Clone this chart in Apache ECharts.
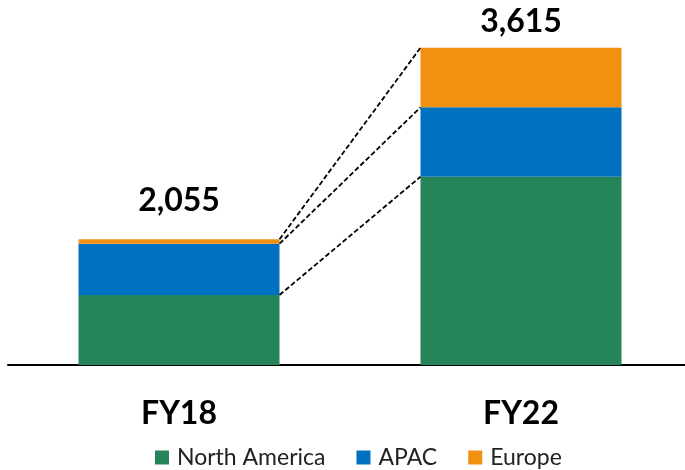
<!DOCTYPE html>
<html>
<head>
<meta charset="utf-8">
<script src="https://cdn.jsdelivr.net/npm/echarts@6/dist/echarts.min.js"></script>
<style>
html,body{margin:0;padding:0;background:#fff;}
#chart{width:685px;height:470px;}
</style>
</head>
<body>
<div id="chart"></div>
<script>
const categories = ['FY18', 'FY22'];
const seriesNames = ['North America', 'APAC', 'Europe'];
const northAmerica = [1144, 2145];
const apac = [839, 791];
const europe = [72, 679];
const totals = [2055, 3615];

const colors = ['#25845A', '#0070C0', '#F29111'];
const FONT = 'Lato';
const BAR_W = 201;
const labelDist = [23, 10];

const valuesBySeries = [northAmerica, apac, europe];
const series = [];
categories.forEach((cat, ci) => {
  valuesBySeries.forEach((vals, si) => {
    const data = categories.map((c, k) => {
      if (k !== ci) return '-';
      if (si === valuesBySeries.length - 1) {
        return { value: vals[k], label: { distance: labelDist[k] } };
      }
      return vals[k];
    });
    const s = {
      name: seriesNames[si],
      type: 'bar',
      stack: 'stack' + ci,
      xAxisIndex: ci,
      yAxisIndex: ci,
      barWidth: BAR_W,
      itemStyle: { color: colors[si] },
      data: data
    };
    if (si === valuesBySeries.length - 1) {
      s.label = {
        show: true,
        position: 'top',
        fontFamily: FONT,
        fontWeight: 'bold',
        fontSize: 32,
        color: '#000',
        formatter: p => totals[p.dataIndex].toLocaleString('en-US')
      };
    }
    series.push(s);
  });
});

const chart = echarts.init(document.getElementById('chart'), null, { renderer: 'canvas' });
chart.setOption({
  animation: false,
  backgroundColor: '#fff',
  textStyle: { fontFamily: FONT },
  grid: { left: 8, width: 684, top: 30, bottom: 105, containLabel: false, outerBoundsMode: 'none' },
  legend: {
    left: 155,
    top: 446,
    padding: 0,
    icon: 'rect',
    itemWidth: 14,
    itemHeight: 14,
    itemGap: 31,
    textStyle: { fontFamily: FONT, fontSize: 23, color: '#222', padding: [0, 0, 0, 3] },
    data: seriesNames
  },
  xAxis: [
    {
      type: 'category',
      data: categories,
      axisLine: { show: true, lineStyle: { color: '#000', width: 2 } },
      axisTick: { show: false },
      axisLabel: { fontFamily: FONT, fontWeight: 'bold', fontSize: 32, color: '#000', margin: 33 }
    },
    { type: 'category', data: categories, show: false }
  ],
  yAxis: [
    { type: 'value', min: 0, max: 5477, show: false },
    { type: 'value', min: 0, max: 3817, show: false }
  ],
  series: series
});

// dashed connector lines between segment tops
const cum = (ci) => {
  let acc = 0;
  return valuesBySeries.map(v => (acc += v[ci]));
};
const c0 = cum(0), c1 = cum(1);
const lines = [];
for (let i = 0; i < valuesBySeries.length; i++) {
  const p0 = chart.convertToPixel({ xAxisIndex: 0, yAxisIndex: 0 }, [0, c0[i]]);
  const p1 = chart.convertToPixel({ xAxisIndex: 1, yAxisIndex: 1 }, [1, c1[i]]);
  lines.push({
    type: 'line',
    silent: true,
    shape: { x1: p0[0] + BAR_W / 2, y1: p0[1], x2: p1[0] - BAR_W / 2, y2: p1[1] },
    style: { stroke: '#000', lineWidth: 1.8, lineDash: [5, 2.5] },
    z: 10
  });
}
chart.setOption({ graphic: lines });
</script>
</body>
</html>
